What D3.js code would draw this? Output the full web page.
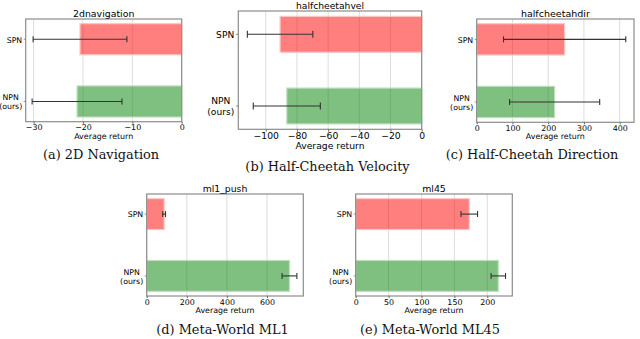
<!DOCTYPE html>
<html><head><meta charset="utf-8">
<script src="https://cdn.jsdelivr.net/npm/d3@7"></script>
<style>body{margin:0;background:#fff}svg{display:block}</style>
</head><body>
<svg id="chart" width="640" height="339"></svg>
<script>
// ---- data ----
const categories = ["SPN", "NPN\n(ours)"];
const titles = ["2dnavigation", "halfcheetahvel", "halfcheetahdir", "ml1_push", "ml45"];
const captions = ["(a) 2D Navigation", "(b) Half-Cheetah Velocity", "(c) Half-Cheetah Direction", "(d) Meta-World ML1", "(e) Meta-World ML45"];
const spnMean = [-20.6, -90.8, 246, 87, 172.6];
const spnErr  = [9.5, 21, 171, 7, 12.6];
const npnMean = [-21.2, -86.5, 218, 712, 216.7];
const npnErr  = [9.1, 21.5, 126, 37, 11];
const xTicks = [[-30, -20, -10, 0], [-100, -80, -60, -40, -20, 0], [0, 100, 200, 300, 400], [0, 200, 400, 600], [0, 50, 100, 150, 200]];
const xLimits = [[-31.6, 0], [-117.6, 0], [0, 440], [0, 781], [0, 238]];
const xLabel = "Average return";

// ---- layout ----
const boxes = [
  {l: 25.7, r: 181.7, t: 19, b: 121.7, s: 1, cap: 155.5, capX: 101},
  {l: 238.3, r: 421.7, t: 11, b: 129.3, s: 1.17, cap: 167.3, capX: 327.5},
  {l: 476.7, r: 634, t: 19, b: 122.3, s: 1, cap: 155.5, capX: 532},
  {l: 146.7, r: 303.3, t: 194, b: 296, s: 1, cap: 331, capX: 222.5},
  {l: 355.7, r: 512.3, t: 194, b: 296, s: 1, cap: 331, capX: 430}
];
const titleSize = [9.4, 9.2, 9.5, 9.3, 9.4];
const colors = {fill: ["#ff0000", "#008000"], edge: ["#ffc4c4", "#c0dfc0"]};
const svg = d3.select("#chart");
const sans = "DejaVu Sans, sans-serif";
const serif = "DejaVu Serif, serif";

titles.forEach((title, i) => {
  const bx = boxes[i], s = bx.s;
  const g = svg.append("g");
  const x = d3.scaleLinear().domain(xLimits[i]).range([bx.l, bx.r]);
  const y = d3.scaleLinear().domain([-0.325, 1.325]).range([bx.t, bx.b]);
  const means = [spnMean[i], npnMean[i]];
  const errs = [spnErr[i], npnErr[i]];

  // grid
  g.selectAll("line.grid").data(xTicks[i]).join("line")
    .attr("x1", d => x(d)).attr("x2", d => x(d))
    .attr("y1", bx.t).attr("y2", bx.b)
    .attr("stroke", "#dcdcdc").attr("stroke-width", 1);

  // bars
  g.selectAll("rect.bar").data(categories).join("rect")
    .attr("x", (d, k) => Math.min(x(0), x(means[k])))
    .attr("width", (d, k) => Math.abs(x(means[k]) - x(0)))
    .attr("y", (d, k) => y(k - 0.25))
    .attr("height", (d, k) => y(k + 0.25) - y(k - 0.25))
    .attr("fill", (d, k) => colors.fill[k]).attr("fill-opacity", 0.5)
    .attr("stroke", (d, k) => colors.edge[k]).attr("stroke-width", 1.2);

  // error bars
  categories.forEach((c, k) => {
    const x0 = x(means[k] - errs[k]), x1 = x(means[k] + errs[k]), yy = y(k);
    g.append("line").attr("x1", x0).attr("x2", x1).attr("y1", yy).attr("y2", yy)
      .attr("stroke", "#333").attr("stroke-width", 1.1);
    [x0, x1].forEach(xx => g.append("line").attr("x1", xx).attr("x2", xx)
      .attr("y1", yy - 3 * s).attr("y2", yy + 3 * s).attr("stroke", "#333").attr("stroke-width", 1.1));
  });

  // frame
  g.append("rect").attr("x", bx.l).attr("y", bx.t)
    .attr("width", bx.r - bx.l).attr("height", bx.b - bx.t)
    .attr("fill", "none").attr("stroke", "#8c8c8c").attr("stroke-width", 1.2);

  // x axis
  const xa = g.append("g").attr("transform", `translate(0,${bx.b})`)
    .call(d3.axisBottom(x).tickValues(xTicks[i]).tickSize(2 * s).tickPadding(0)
      .tickFormat(d => d < 0 ? "\u2212" + Math.abs(d) : d));
  xa.select(".domain").remove();
  xa.selectAll("line").attr("stroke", "#666");
  xa.selectAll("text").attr("font-family", sans).attr("font-size", 7.9 * s).attr("fill", "#000")
    .attr("y", 8.6 * s).attr("dy", null);

  // y tick labels
  categories.forEach((c, k) => {
    const yy = y(k);
    g.append("line").attr("x1", bx.l - 2 * s).attr("x2", bx.l).attr("y1", yy).attr("y2", yy)
      .attr("stroke", "#777").attr("stroke-width", 0.8);
    const lines = c.split("\n");
    const fs = 7.8 * s, lh = 9.3 * s;
    const t = g.append("text").attr("font-family", sans).attr("font-size", fs).attr("fill", "#000")
      .attr("text-anchor", "middle");
    const tsp = lines.map((ln, j) => t.append("tspan")
      .attr("y", yy + 0.36 * fs + 0.5 * s + (j - (lines.length - 1) / 2) * lh).text(ln));
    const maxW = d3.max(tsp, ts => ts.node().getComputedTextLength());
    const cx = bx.l - 3.5 * s - maxW / 2;
    tsp.forEach(ts => ts.attr("x", cx));
  });

  // title
  g.append("text").attr("x", (bx.l + bx.r) / 2).attr("y", bx.t - 2 * s)
    .attr("text-anchor", "middle").attr("font-family", sans).attr("font-size", titleSize[i])
    .attr("fill", "#000").text(title);

  // x label
  g.append("text").attr("x", (bx.l + bx.r) / 2).attr("y", bx.b + 17 * s)
    .attr("text-anchor", "middle").attr("font-family", sans).attr("font-size", 7.9 * s)
    .attr("fill", "#000").text(xLabel);

  // caption
  g.append("text").attr("x", bx.capX).attr("y", bx.cap + 3.2)
    .attr("text-anchor", "middle").attr("font-family", serif).attr("font-size", 12.9)
    .attr("fill", "#111").text(captions[i]);
});
</script>
</body></html>
